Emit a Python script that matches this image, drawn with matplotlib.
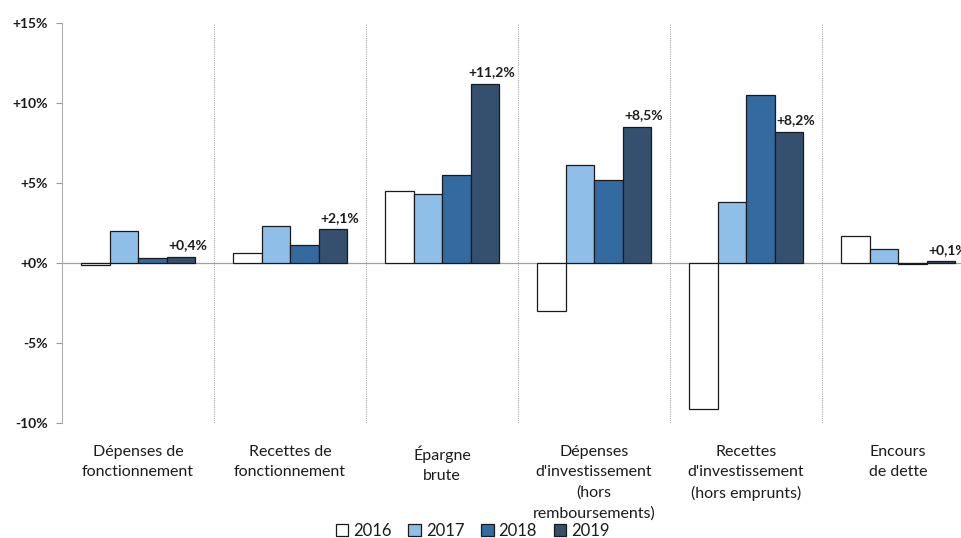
import matplotlib
matplotlib.use("Agg")
import matplotlib.pyplot as plt
from matplotlib.patches import Patch
import numpy as np

plt.rcParams['font.family'] = ['Lato', 'DejaVu Sans']

categories = [
    "Dépenses de\nfonctionnement",
    "Recettes de\nfonctionnement",
    "Épargne\nbrute",
    "Dépenses\nd'investissement\n(hors\nremboursements)",
    "Recettes\nd'investissement\n(hors emprunts)",
    "Encours\nde dette",
]
years = ["2016", "2017", "2018", "2019"]
v2016 = [-0.1, 0.6, 4.5, -3.0, -9.1, 1.7]
v2017 = [2.0, 2.3, 4.3, 6.1, 3.8, 0.9]
v2018 = [0.3, 1.1, 5.5, 5.2, 10.5, -0.05]
v2019 = [0.4, 2.1, 11.2, 8.5, 8.2, 0.1]
series = [v2016, v2017, v2018, v2019]
colors = ["#ffffff", "#8fbfe9", "#336a9f", "#35506f"]
yticks = [-10, -5, 0, 5, 10, 15]
ytick_labels = ["-10%", "-5%", "+0%", "+5%", "+10%", "+15%"]

text_color = "#1c1c1c"

fig = plt.figure(figsize=(9.61, 5.38), dpi=100)
ax = fig.add_axes([62 / 961, 1 - 423 / 538, 912 / 961, 400 / 538])

x = np.arange(len(categories))
bw = 0.1875
for i, (vals, col) in enumerate(zip(series, colors)):
    offs = (i - 1.5) * bw
    ax.bar(x + offs, vals, width=bw, color=col, edgecolor="#1a1a1a",
           linewidth=0.9, label=years[i], zorder=3)

# value labels above the latest year
for xi, v in zip(x, v2019):
    lbl = ("+" if v >= 0 else "") + f"{v:.1f}".replace(".", ",") + "%"
    ax.annotate(lbl, (xi + 1.5 * bw, max(v, 0)), xytext=(5, 4),
                textcoords="offset points", ha="center", va="bottom",
                fontsize=10, fontweight="bold", color=text_color, zorder=4)

ax.set_xlim(-0.5, len(categories) - 0.5)
ax.set_ylim(-10, 15)
ax.set_yticks(yticks)
ax.set_yticklabels(ytick_labels, fontsize=10, fontweight="bold",
                   color=text_color)
ax.set_xticks(x)
ax.set_xticklabels(categories, fontsize=11.5, color=text_color,
                   linespacing=1.55, va="top")
ax.tick_params(axis="x", length=0, pad=16)
ax.tick_params(axis="y", length=4, width=0.8, color="#9a9a9a", pad=6)

# category separators
for b in np.arange(0.5, len(categories) - 0.5, 1.0):
    ax.axvline(b, color="#a8a8a8", linewidth=0.8, linestyle=(0, (1, 1)), zorder=1)
ax.axhline(0, color="#a0a0a0", linewidth=0.9, zorder=2)

for s in ["top", "right", "bottom"]:
    ax.spines[s].set_visible(False)
ax.spines["left"].set_color("#b0b0b0")
ax.spines["left"].set_linewidth(0.8)

handles = [Patch(facecolor=c, edgecolor="#1a1a1a", linewidth=0.9) for c in colors]
fig.legend(handles, years, loc="lower center", bbox_to_anchor=(0.492, -0.03),
           ncol=4, frameon=False, fontsize=12, handlelength=0.75,
           handleheight=0.75, handletextpad=0.3, columnspacing=1.0,
           labelcolor=text_color)

fig.savefig("out.png", dpi=100)
